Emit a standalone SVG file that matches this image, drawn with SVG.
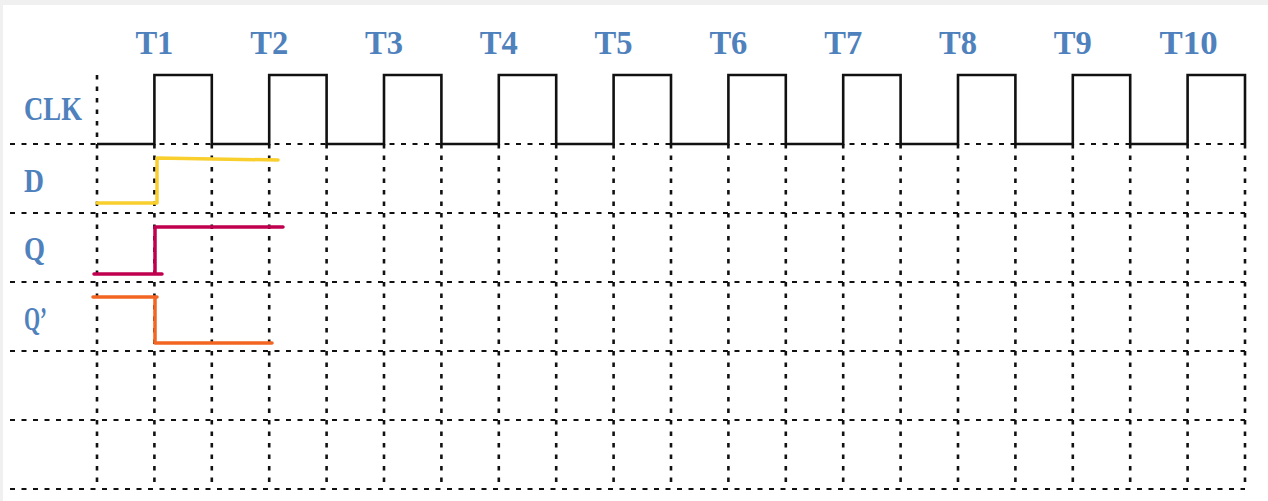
<svg xmlns="http://www.w3.org/2000/svg" width="1268" height="501" viewBox="0 0 1268 501">
<style>
.lbl{font-family:"Liberation Serif","DejaVu Serif",serif;font-weight:bold;font-size:33px;fill:#4f81bd}
.t{text-anchor:middle}
.h{stroke:#111;stroke-width:2.2;stroke-dasharray:5 6.5;fill:none}
.v{stroke:#111;stroke-width:2.6;stroke-dasharray:4.5 7;fill:none}
.clk{stroke:#111;stroke-width:2.6;fill:none;stroke-linejoin:miter}
.sig{fill:none;stroke-width:3.5;stroke-linecap:round;stroke-linejoin:round}
</style>
<rect width="1268" height="501" fill="#ffffff"/>
<rect width="1268" height="5" fill="#f0f0f0"/>
<rect width="3" height="501" fill="#f0f0f0"/>
<g id="grid">
<path class="h" d="M10,144H1245M10,213H1245M10,282H1245M10,351H1245M10,420H1245M10,489H1245"/>
<path class="v" d="M97,75V489M154.4,144V489M211.8,144V489M269.2,144V489M326.6,144V489M384,144V489M441.4,144V489M498.8,144V489M556.2,144V489M613.6,144V489M671,144V489M728.4,144V489M785.8,144V489M843.2,144V489M900.6,144V489M958,144V489M1015.4,144V489M1072.8,144V489M1130.2,144V489M1187.6,144V489M1245,144V489"/>
</g>
<g id="time-labels">
<text class="lbl t" x="154.4" y="54" textLength="38" lengthAdjust="spacingAndGlyphs">T1</text>
<text class="lbl t" x="269.2" y="54" textLength="38" lengthAdjust="spacingAndGlyphs">T2</text>
<text class="lbl t" x="384" y="54" textLength="38" lengthAdjust="spacingAndGlyphs">T3</text>
<text class="lbl t" x="498.8" y="54" textLength="38" lengthAdjust="spacingAndGlyphs">T4</text>
<text class="lbl t" x="613.6" y="54" textLength="38" lengthAdjust="spacingAndGlyphs">T5</text>
<text class="lbl t" x="728.4" y="54" textLength="38" lengthAdjust="spacingAndGlyphs">T6</text>
<text class="lbl t" x="843.2" y="54" textLength="38" lengthAdjust="spacingAndGlyphs">T7</text>
<text class="lbl t" x="958" y="54" textLength="38" lengthAdjust="spacingAndGlyphs">T8</text>
<text class="lbl t" x="1072.8" y="54" textLength="38" lengthAdjust="spacingAndGlyphs">T9</text>
<text class="lbl t" x="1188.6" y="54" textLength="58" lengthAdjust="spacingAndGlyphs">T10</text>
</g>
<g id="signal-labels">
<text class="lbl" x="24" y="120" textLength="58" lengthAdjust="spacingAndGlyphs">CLK</text>
<text class="lbl" x="24" y="192" textLength="20" lengthAdjust="spacingAndGlyphs">D</text>
<text class="lbl" x="24" y="260" textLength="21" lengthAdjust="spacingAndGlyphs">Q</text>
<text class="lbl" x="24" y="330" textLength="23" lengthAdjust="spacingAndGlyphs">Q’</text>
</g>
<g id="clk">
<path class="clk" d="M97,144H154.4V75H211.8V144H269.2V75H326.6V144H384V75H441.4V144H498.8V75H556.2V144H613.6V75H671V144H728.4V75H785.8V144H843.2V75H900.6V144H958V75H1015.4V144H1072.8V75H1130.2V144H1187.6V75H1245V144"/>
</g>
<g id="sig-d">
<path class="sig" stroke="#f9cf2e" d="M97,203H157V158L278,160"/>
</g>
<g id="sig-q">
<path class="sig" stroke="#c0004f" d="M94,274H162M155,274V227H283"/>
</g>
<g id="sig-qn">
<path class="sig" stroke="#f26522" d="M93,297H157M155,297V343H272"/>
</g>
</svg>
